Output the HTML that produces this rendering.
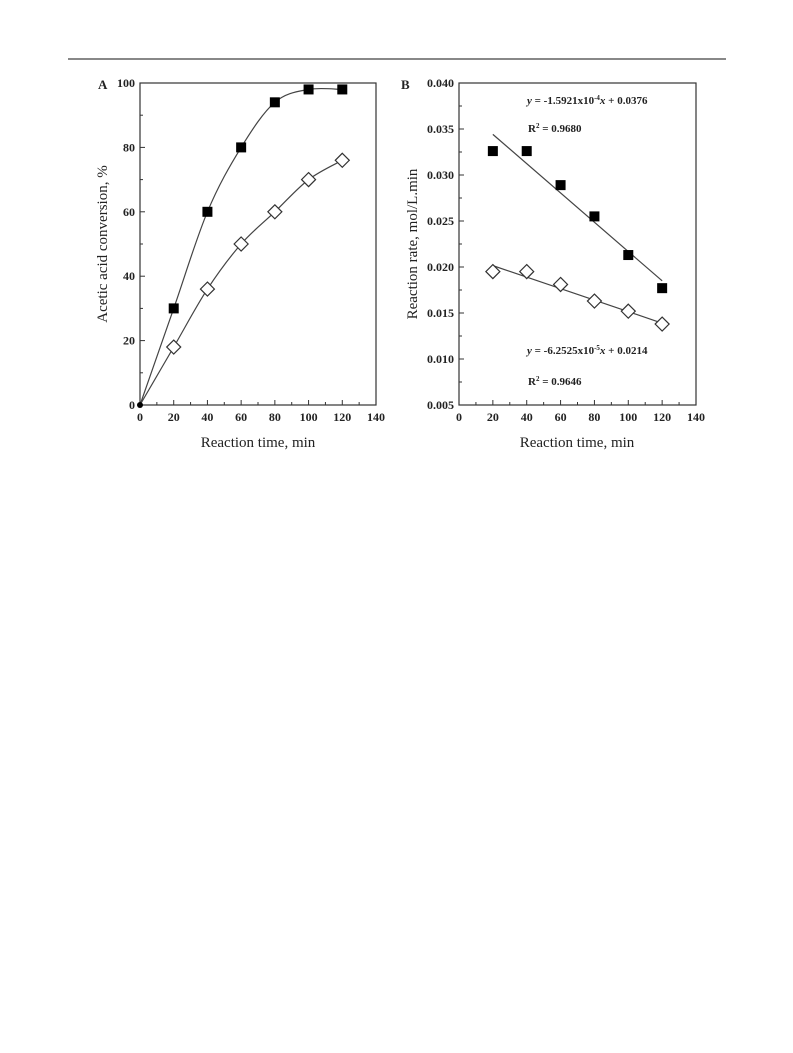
<!DOCTYPE html>
<html><head><meta charset="utf-8"><style>
body{margin:0;background:#fff;width:793px;height:1053px;overflow:hidden}
svg{position:absolute;left:0;top:0}
text{font-family:"Liberation Serif",serif;fill:#222}
</style></head><body>
<svg id="s" width="793" height="1053">
<line x1="68" y1="59" x2="726" y2="59" stroke="#111" stroke-width="1"/>
</svg>
<script>
const xCats=[20,40,60,80,100,120];
const aFilled=[30,60,80,94,98,98];
const aOpen=[18,36,50,60,70,76];
const aXTicks=[0,20,40,60,80,100,120,140];
const aYTicks=[0,20,40,60,80,100];
const bFilled=[0.0326,0.0326,0.0289,0.0255,0.0213,0.0177];
const bOpen=[0.0195,0.0195,0.0181,0.0163,0.0152,0.0138];
const bYTicks=[0.005,0.010,0.015,0.020,0.025,0.030,0.035,0.040];
const bFitFilled=[-1.5921e-4,0.0376];
const bFitOpen=[-6.2525e-5,0.0214];
const NS='http://www.w3.org/2000/svg';
const svg=document.getElementById('s');
function mk(t,a,p){const e=document.createElementNS(NS,t);for(const k in a)e.setAttribute(k,a[k]);(p||svg).appendChild(e);return e;}
function txt(x,y,s,a,p){const e=mk('text',Object.assign({x:x,y:y},a),p);e.textContent=s;return e;}
function axes(L,R,T,B,x0,x1,y0,y1,xt,yt,xmin,ymin,fmt,g){
  const sx=v=>L+(v-x0)/(x1-x0)*(R-L), sy=v=>B-(v-y0)/(y1-y0)*(B-T);
  const f=mk('rect',{x:L,y:T,width:R-L,height:B-T,fill:'none',stroke:'#333','stroke-width':1.2},g);
  
  for(let v=x0;v<=x1+1e-9;v+=xmin){const maj=xt.some(t=>Math.abs(t-v)<1e-9);mk('line',{x1:sx(v),x2:sx(v),y1:B,y2:B-(maj?5:3),stroke:'#333'},g);}
  for(let v=y0;v<=y1+1e-9;v+=ymin){const maj=yt.some(t=>Math.abs(t-v)<1e-9);mk('line',{x1:L,x2:L+(maj?5:3),y1:sy(v),y2:sy(v),stroke:'#333'},g);}
  xt.forEach(v=>{const t=txt(sx(v),B+16,String(v),{'text-anchor':'middle','font-size':12,'font-weight':'bold'},g);});
  yt.forEach(v=>{const t=txt(L-5,sy(v)+4,fmt(v),{'text-anchor':'end','font-size':12,'font-weight':'bold'},g);});
  return [sx,sy];
}
function sq(x,y,g){const r=mk('rect',{x:x-5,y:y-5,width:10,height:10,fill:'#000'},g);}
function dia(x,y,g){const p=mk('polygon',{points:`${x},${y-7} ${x+7},${y} ${x},${y+7} ${x-7},${y}`,fill:'#fff',stroke:'#333','stroke-width':1.2},g);}
function spline(pts){let d=`M${pts[0][0]},${pts[0][1]}`;for(let i=0;i<pts.length-1;i++){const p0=pts[Math.max(i-1,0)],p1=pts[i],p2=pts[i+1],p3=pts[Math.min(i+2,pts.length-1)];d+=` C${p1[0]+(p2[0]-p0[0])/6},${p1[1]+(p2[1]-p0[1])/6} ${p2[0]-(p3[0]-p1[0])/6},${p2[1]-(p3[1]-p1[1])/6} ${p2[0]},${p2[1]}`;}return d;}
// Chart A
const gA=mk('g',{});
const [ax,ay]=axes(140,376,83,405,0,140,0,100,aXTicks,aYTicks,10,10,v=>String(v),gA);
[[aFilled,'curve-filled'],[aOpen,'curve-open']].forEach(([arr,n])=>{const pts=[[ax(0),ay(0)]].concat(xCats.map((x,i)=>[ax(x),ay(arr[i])]));const p=mk('path',{d:spline(pts),fill:'none',stroke:'#444','stroke-width':1.2},gA);});
mk('circle',{cx:ax(0),cy:ay(0),r:3,fill:'#000'},gA);
xCats.forEach((x,i)=>{sq(ax(x),ay(aFilled[i]),gA);dia(ax(x),ay(aOpen[i]),gA);});
let t=txt(98,89,'A',{'font-size':13,'font-weight':'bold'},gA);
t=txt(258,447,'Reaction time, min',{'text-anchor':'middle','font-size':15},gA);
t=txt(0,0,'Acetic acid conversion, %',{'text-anchor':'middle','font-size':15,transform:'translate(107,244) rotate(-90)'},gA);
// Chart B
const gB=mk('g',{});
const [bx,by]=axes(459,696,83,405,0,140,0.005,0.040,aXTicks,bYTicks,10,0.0025,v=>v.toFixed(3),gB);
[[bFitFilled,'fit-line-filled'],[bFitOpen,'fit-line-open']].forEach(([c,n])=>{const l=mk('line',{x1:bx(20),y1:by(c[1]+c[0]*20),x2:bx(120),y2:by(c[1]+c[0]*120),stroke:'#444','stroke-width':1.2},gB);});
xCats.forEach((x,i)=>{sq(bx(x),by(bFilled[i]),gB);dia(bx(x),by(bOpen[i]),gB);});
t=txt(401,89,'B',{'font-size':13,'font-weight':'bold'},gB);
t=txt(577,447,'Reaction time, min',{'text-anchor':'middle','font-size':15},gB);
t=txt(0,0,'Reaction rate, mol/L.min',{'text-anchor':'middle','font-size':15,transform:'translate(417,244) rotate(-90)'},gB);
function eq(x,y,coef,exp,icpt,name){const e=mk('text',{x:x,y:y,'font-size':11,'font-weight':'bold'},gB);e.innerHTML=`<tspan font-style="italic">y</tspan> = ${coef}x10<tspan dy="-4" font-size="7">${exp}</tspan><tspan dy="4" font-style="italic">x</tspan> + ${icpt}`;}
function r2(x,y,v,name){const e=mk('text',{x:x,y:y,'font-size':11,'font-weight':'bold'},gB);e.innerHTML=`R<tspan dy="-4" font-size="7">2</tspan><tspan dy="4"> = ${v}</tspan>`;}
eq(527,104,'-1.5921','-4','0.0376','equation-filled');
r2(528,132,'0.9680','r2-filled');
eq(527,354,'-6.2525','-5','0.0214','equation-open');
r2(528,385,'0.9646','r2-open');
</script>
</body></html>
